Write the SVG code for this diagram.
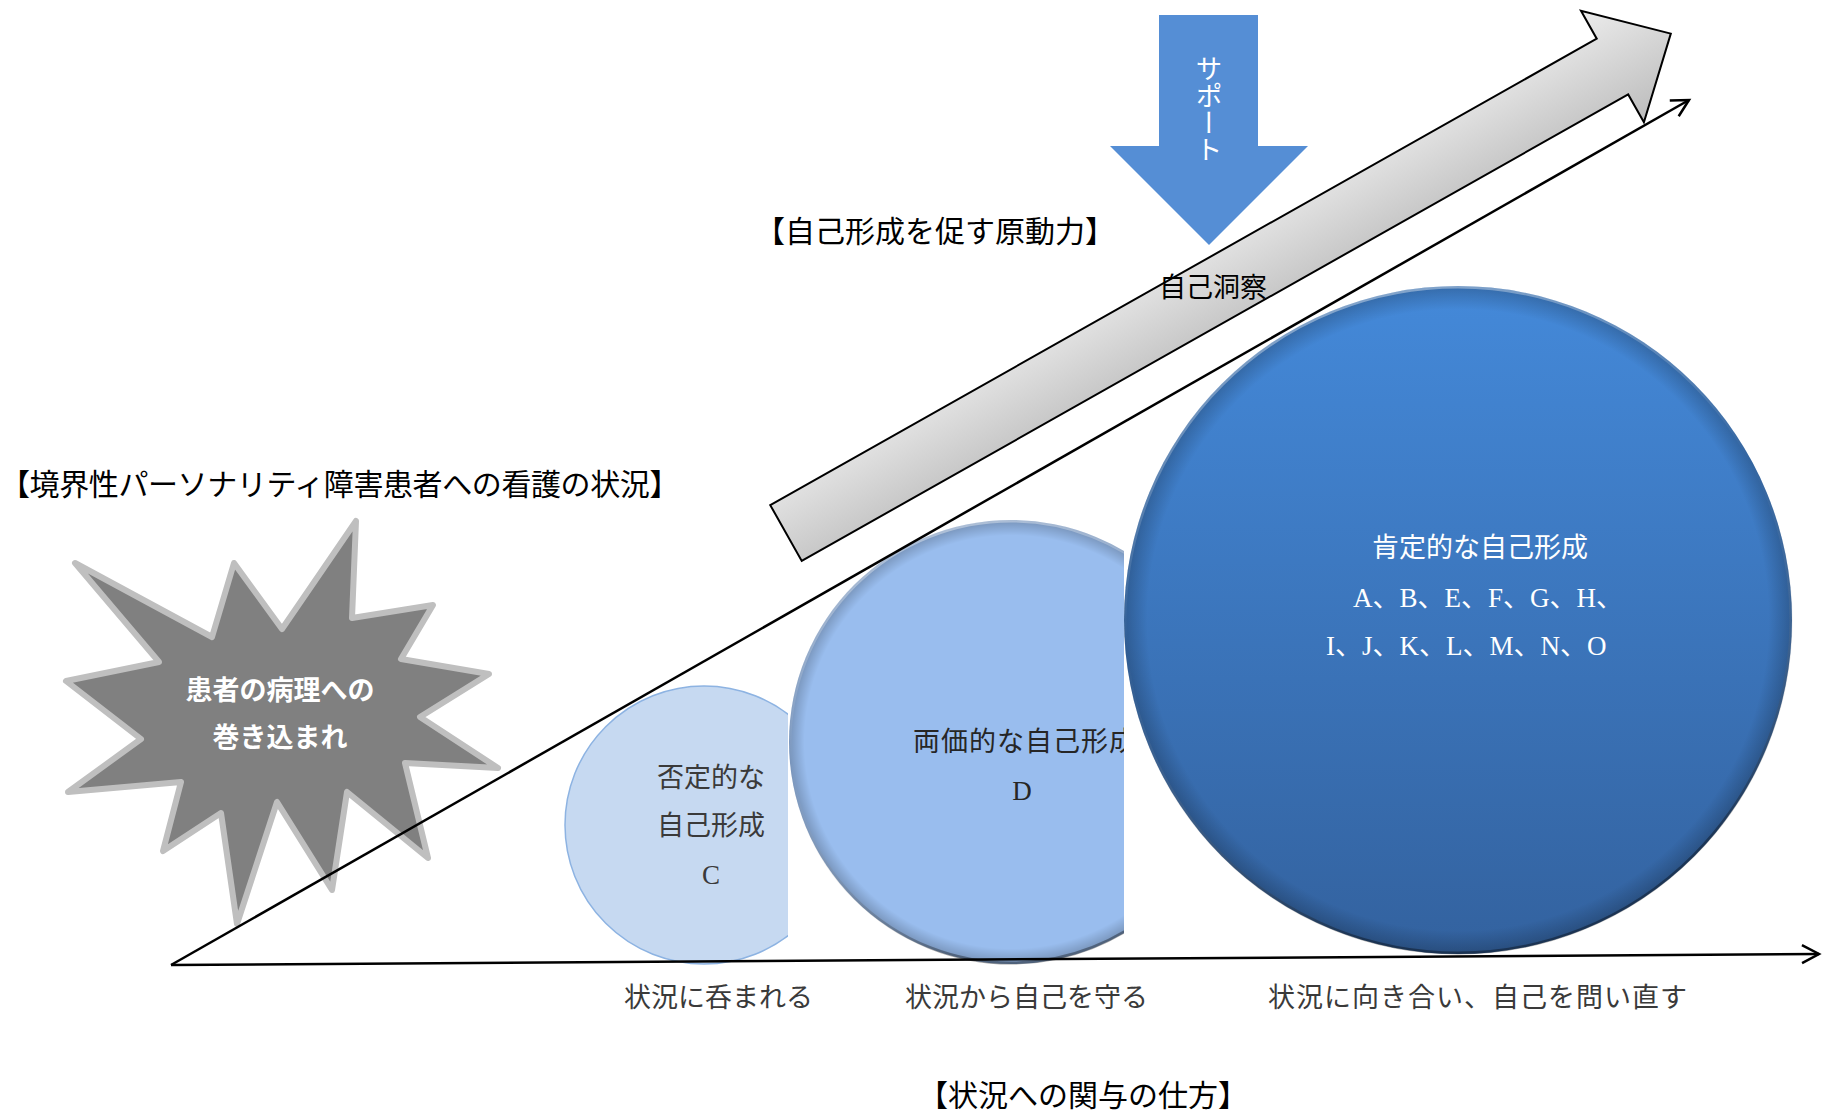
<svg xmlns="http://www.w3.org/2000/svg" width="1823" height="1112" viewBox="0 0 1823 1112">
<defs>
<style>
.jp{font-family:"Noto Sans CJK JP","Noto Sans",sans-serif;dominant-baseline:central}
.mix{font-family:"Liberation Serif","Noto Sans CJK JP",serif;dominant-baseline:central}
.head{font-size:30px;fill:#000}
.lbl{font-size:27px;fill:#3a3a3a}
.ax{fill:none;stroke:#000;stroke-width:2.5}
</style>
<marker id="open" markerUnits="userSpaceOnUse" markerWidth="26" markerHeight="26" refX="20" refY="11" orient="auto">
<path d="M3,2 L20,11 L3,20" fill="none" stroke="#000" stroke-width="2.5"/>
</marker>
<clipPath id="clipC"><rect x="0" y="0" width="788" height="1112"/></clipPath>
<clipPath id="clipD"><rect x="0" y="0" width="1124" height="1112"/></clipPath>
<linearGradient id="gBig" x1="0" y1="0" x2="0" y2="1">
<stop offset="0" stop-color="#4489d9"/>
<stop offset="1" stop-color="#33629f"/>
</linearGradient>
<radialGradient id="rim" cx="0.5" cy="0.5" r="0.5">
<stop offset="0.93" stop-color="#000" stop-opacity="0"/>
<stop offset="1" stop-color="#000" stop-opacity="0.22"/>
</radialGradient>
<linearGradient id="rimStroke" x1="0" y1="0" x2="0.3" y2="1">
<stop offset="0" stop-color="#ffffff" stop-opacity="0.5"/>
<stop offset="0.5" stop-color="#ffffff" stop-opacity="0"/>
<stop offset="1" stop-color="#000000" stop-opacity="0.35"/>
</linearGradient>
<linearGradient id="gArrow" x1="0" y1="-64" x2="0" y2="64" gradientUnits="userSpaceOnUse">
<stop offset="0" stop-color="#ececec"/>
<stop offset="1" stop-color="#bcbcbc"/>
</linearGradient>
</defs>

<g id="circle-C" clip-path="url(#clipC)">
<circle cx="704" cy="825" r="139" fill="#c6d9f1" stroke="#8db3e2" stroke-width="1.5"/>
<text class="mix lbl" x="711" y="778" text-anchor="middle" fill="#262626">否定的な</text>
<text class="mix lbl" x="711" y="826" text-anchor="middle" fill="#262626">自己形成</text>
<text class="mix lbl" x="711" y="875" text-anchor="middle" fill="#262626">C</text>
</g>

<g id="circle-D" clip-path="url(#clipD)">
<circle cx="1011" cy="742" r="222" fill="#99bdee"/>
<circle cx="1011" cy="742" r="222" fill="url(#rim)"/>
<circle cx="1011" cy="742" r="221" fill="none" stroke="url(#rimStroke)" stroke-width="3"/>
<text class="mix" x="913" y="742" font-size="27" fill="#262626" letter-spacing="1">両価的な自己形成</text>
<text class="mix" x="1022" y="791" font-size="27" fill="#262626" text-anchor="middle">D</text>
</g>

<g id="circle-big">
<circle cx="1458" cy="620" r="334" fill="url(#gBig)"/>
<circle cx="1458" cy="620" r="334" fill="url(#rim)"/>
<circle cx="1458" cy="620" r="333" fill="none" stroke="url(#rimStroke)" stroke-width="3"/>
<text class="mix" x="1480" y="548" font-size="27" fill="#fff" text-anchor="middle">肯定的な自己形成</text>
<text class="mix" x="1353" y="598" font-size="27" fill="#fff">A、B、E、F、G、H、</text>
<text class="mix" x="1326" y="646" font-size="27" fill="#fff">I、J、K、L、M、N、O</text>
</g>

<g id="star">
<polygon points="356,521 352,618 433,605 401,659 489,674 420,717 498,768 405,763 428,858 347,792 332,890 277,802 237,924 221,813 163,851 181,782 68,792 141,739 66,681 159,662 75,563 212,637 234,563 282,629" fill="#808080" stroke="#bfbfbf" stroke-width="6" stroke-linejoin="round"/>
<text class="jp" x="280" y="688" font-size="27" font-weight="bold" fill="#fff" text-anchor="middle">患者の病理への</text>
<text class="jp" x="280" y="735" font-size="27" font-weight="bold" fill="#fff" text-anchor="middle">巻き込まれ</text>
</g>

<g id="arrow-self-insight">
<polygon transform="translate(786,533) rotate(-29.44)" points="0,-32 949,-32 949,-64 1016,0 949,64 949,32 0,32" fill="url(#gArrow)" stroke="#000" stroke-width="2"/>
</g>

<g id="arrow-support">
<polygon points="1159,15 1258,15 1258,146 1308,146 1209,245 1110,146 1159,146" fill="#558ed5"/>
<text class="jp" x="1209" y="55" font-size="27" fill="#fff" writing-mode="vertical-rl">サポート</text>
</g>

<g id="connectors">
<line class="ax" x1="171" y1="965" x2="1689" y2="100" marker-end="url(#open)"/>
<line class="ax" x1="171" y1="965" x2="1819" y2="954" marker-end="url(#open)"/>
</g>

<g id="labels">
<text class="jp head" x="755" y="229">【自己形成を促す原動力】</text>
<text class="jp" x="1159" y="285" font-size="27" fill="#000">自己洞察</text>
<text class="mix head" x="0" y="484" letter-spacing="-0.4">【境界性パーソナリティ障害患者への看護の状況】</text>
<text class="mix lbl" x="624" y="998">状況に呑まれる</text>
<text class="mix lbl" x="905" y="998">状況から自己を守る</text>
<text class="mix lbl" x="1268" y="998" letter-spacing="1">状況に向き合い、自己を問い直す</text>
<text class="jp head" x="918" y="1093">【状況への関与の仕方】</text>
</g>
</svg>
